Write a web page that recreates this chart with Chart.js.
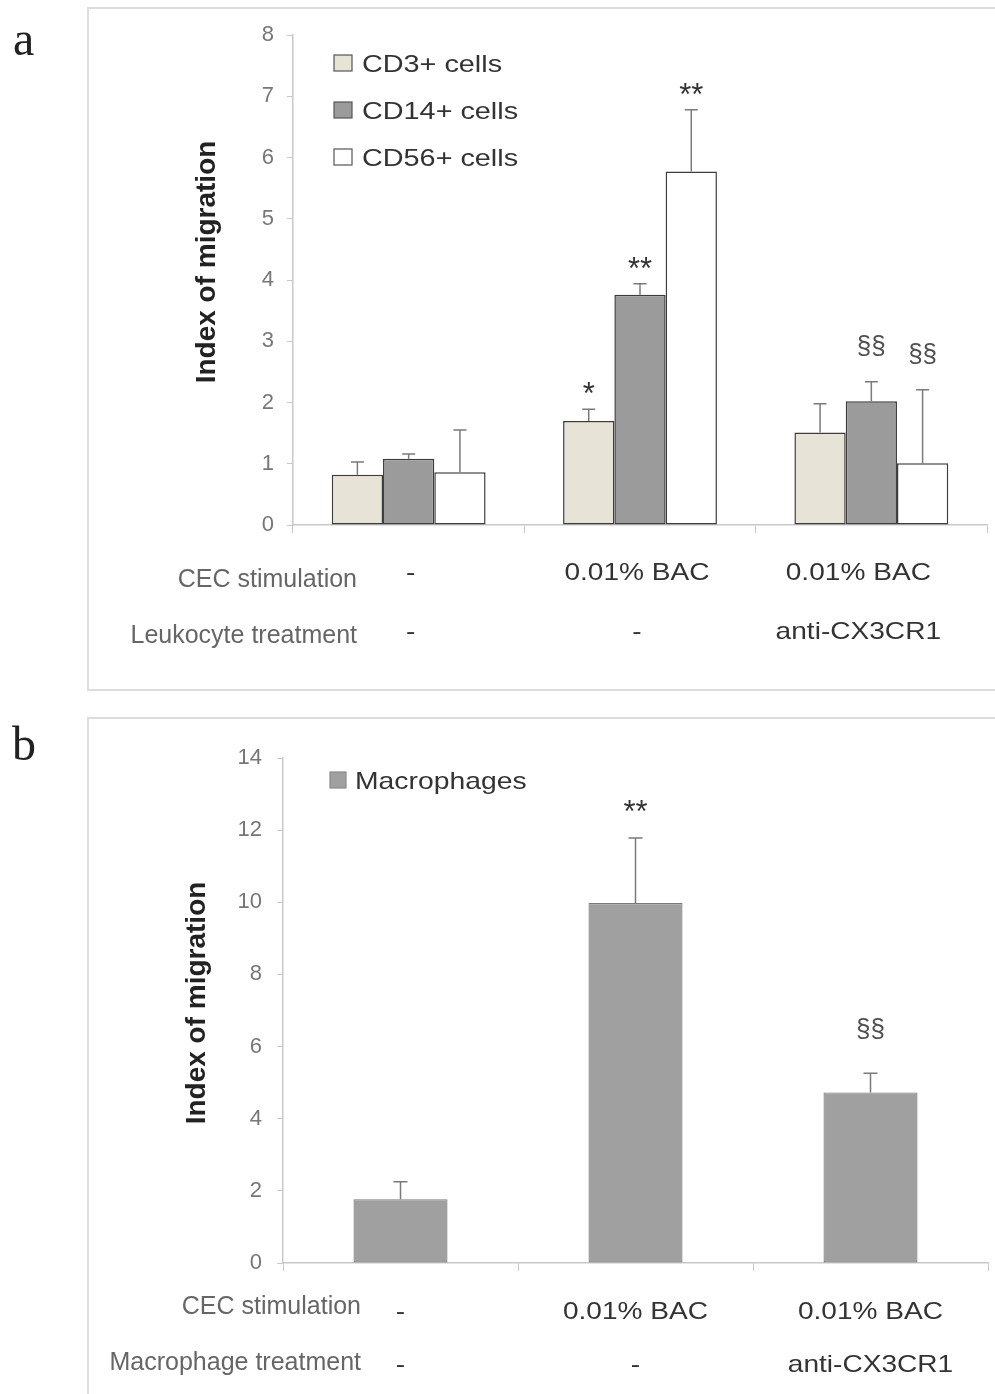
<!DOCTYPE html>
<html>
<head>
<meta charset="utf-8">
<script src="https://cdn.jsdelivr.net/npm/chart.js@4.4.1/dist/chart.umd.min.js"></script>
<style>
    html, body { margin: 0; padding: 0; background: #fff; overflow: hidden; }
    body { width: 995px; height: 1394px; position: relative; }
    .frame { position: absolute; border: 2px solid #dddddd; box-sizing: border-box; }
    canvas { position: absolute; left: 0; }
</style>
</head>
<body>
<div class="frame" style="left:87px; top:7px; width:940px; height:684px;"></div>
<div class="frame" style="left:87px; top:717px; width:940px; height:720px;"></div>
<canvas id="chartA" width="995" height="700" style="top:0;"></canvas>
<canvas id="chartB" width="995" height="694" style="top:700px;"></canvas>

<script>
// panel a - leukocytes
const groupsA = ['control', 'BAC', 'BAC + anti-CX3CR1'];
const cecStimulationA = ['-', '0.01% BAC', '0.01% BAC'];
const leukocyteTreatment = ['-', '-', 'anti-CX3CR1'];
const cd3Mean = [0.82, 1.70, 1.51];
const cd3Sd = [0.21, 0.19, 0.47];
const cd14Mean = [1.08, 3.76, 2.02];
const cd14Sd = [0.08, 0.18, 0.32];
const cd56Mean = [0.86, 5.77, 1.01];
const cd56Sd = [0.69, 1.01, 1.20];
const cd3Marks = ['', '*', ''];
const cd14Marks = ['', '**', '§§'];
const cd56Marks = ['', '**', '§§'];
const yMaxA = 8, yStepA = 1;

// panel b - macrophages
const groupsB = ['control', 'BAC', 'BAC + anti-CX3CR1'];
const cecStimulationB = ['-', '0.01% BAC', '0.01% BAC'];
const macrophageTreatment = ['-', '-', 'anti-CX3CR1'];
const macroMean = [1.77, 9.98, 4.73];
const macroSd = [0.48, 1.80, 0.53];
const macroMarks = ['', '**', '§§'];
const yMaxB = 14, yStepB = 2;

const SANS = '"Liberation Sans", Arial, sans-serif';

// text centred on (x, cy) by cap height, optionally stretched in x or rotated
function drawText(ctx, str, x, cy, o) {
    ctx.save();
    ctx.font = (o.weight || 'normal') + ' ' + o.size + 'px ' + (o.family || SANS);
    ctx.fillStyle = o.color || '#333';
    ctx.textAlign = o.align || 'center';
    ctx.textBaseline = 'alphabetic';
    let shift = o.size * 0.716 / 2;
    if (o.bbox) {
        const m = ctx.measureText(str);
        shift = (m.actualBoundingBoxAscent - m.actualBoundingBoxDescent) / 2;
    }
    ctx.translate(x, cy);
    if (o.rotate) ctx.rotate(o.rotate);
    ctx.scale(o.sx || 1, 1);
    ctx.fillText(str, 0, shift);
    ctx.restore();
}

const errorBars = {
    id: 'errorBars',
    afterDatasetsDraw(chart, args, opts) {
        const ctx = chart.ctx;
        const y = chart.scales.y;
        chart.data.datasets.forEach((ds, i) => {
            chart.getDatasetMeta(i).data.forEach((bar, j) => {
                const top = y.getPixelForValue(ds.data[j] + ds.sd[j]);
                ctx.save();
                ctx.strokeStyle = opts.color;
                ctx.lineWidth = 1.5;
                ctx.beginPath();
                ctx.moveTo(bar.x, bar.y);
                ctx.lineTo(bar.x, top);
                ctx.moveTo(bar.x - opts.cap, top);
                ctx.lineTo(bar.x + opts.cap, top);
                ctx.stroke();
                ctx.restore();
                const mark = ds.marks[j];
                if (mark) {
                    const sect = mark.includes('§');
                    drawText(ctx, mark, bar.x, top - opts.gap[mark], {
                        size: sect ? 26 : 31, color: sect ? '#505050' : '#333', bbox: true
                    });
                }
            });
        });
    }
};

const decor = {
    id: 'decor',
    afterDraw(chart, args, o) {
        const ctx = chart.ctx;
        const x = chart.scales.x;
        // panel letter
        ctx.save();
        ctx.font = '48px "Liberation Serif", "Times New Roman", serif';
        ctx.fillStyle = '#222';
        ctx.fillText(o.tag, o.tagX, o.tagY);
        ctx.restore();
        // y title
        drawText(ctx, 'Index of migration', o.titleX, o.titleY,
            { size: 28, weight: 'bold', color: '#222', rotate: -Math.PI / 2 });
        // legend
        chart.data.datasets.forEach((ds, i) => {
            const cy = o.legend.y + i * o.legend.gap;
            ctx.save();
            ctx.fillStyle = ds.backgroundColor;
            ctx.strokeStyle = o.legend.stroke;
            ctx.lineWidth = 1.2;
            ctx.fillRect(o.legend.x, cy - o.legend.h / 2, o.legend.w, o.legend.h);
            ctx.strokeRect(o.legend.x, cy - o.legend.h / 2, o.legend.w, o.legend.h);
            ctx.restore();
            drawText(ctx, ds.label, o.legend.textX, cy, { size: 24, sx: o.legend.sx, align: 'left', color: '#333' });
        });
        // condition rows under the axis
        o.rows.forEach(r => {
            drawText(ctx, r.label, o.rowRight, r.y, { size: 25, align: 'right', color: '#666' });
            r.values.forEach((v, j) => {
                drawText(ctx, v, x.getPixelForValue(j) + (o.valueShift[j] || 0), r.valueY,
                    { size: 24, sx: 1.17, color: '#333' });
            });
        });
    }
};

function makeOptions(cfg) {
    return {
        responsive: false,
        animation: false,
        devicePixelRatio: 1,
        layout: { padding: { left: 0, top: cfg.top, right: cfg.right, bottom: 0 } },
        plugins: {
            legend: { display: false },
            tooltip: { enabled: false },
            errorBars: cfg.errorBars,
            decor: cfg.decor
        },
        scales: {
            x: {
                grid: { drawOnChartArea: false, tickLength: 8, color: '#c8c8c8', offset: true },
                border: { color: '#c8c8c8', width: 1.5 },
                ticks: { display: false },
                afterFit: s => { s.height = cfg.xHeight; }
            },
            y: {
                min: 0,
                max: cfg.yMax,
                grid: { drawOnChartArea: false, tickLength: 6, color: '#c8c8c8' },
                border: { color: '#c8c8c8', width: 1.5 },
                ticks: {
                    stepSize: cfg.yStep,
                    padding: cfg.tickPad,
                    color: '#777',
                    font: { family: SANS, size: 22 }
                },
                afterFit: s => { s.width = cfg.yWidth; }
            }
        }
    };
}

new Chart(document.getElementById('chartA'), {
    type: 'bar',
    data: {
        labels: groupsA,
        datasets: [
            { label: 'CD3+ cells', data: cd3Mean, sd: cd3Sd, marks: cd3Marks,
              backgroundColor: '#e7e3d6', borderColor: '#3c3c3c', borderWidth: 1.5, borderSkipped: false,
              categoryPercentage: 0.665, barPercentage: 1 },
            { label: 'CD14+ cells', data: cd14Mean, sd: cd14Sd, marks: cd14Marks,
              backgroundColor: '#9b9b9b', borderColor: '#3c3c3c', borderWidth: 1.5, borderSkipped: false,
              categoryPercentage: 0.665, barPercentage: 1 },
            { label: 'CD56+ cells', data: cd56Mean, sd: cd56Sd, marks: cd56Marks,
              backgroundColor: '#ffffff', borderColor: '#3c3c3c', borderWidth: 1.5, borderSkipped: false,
              categoryPercentage: 0.665, barPercentage: 1 }
        ]
    },
    options: makeOptions({
        top: 35, right: 8, xHeight: 175, yWidth: 293, yMax: yMaxA, yStep: yStepA, tickPad: 13,
        errorBars: { color: '#7a7a7a', cap: 6.5, gap: { '*': 21, '**': 21, '§§': 36 } },
        decor: {
            tag: 'a', tagX: 13, tagY: 55,
            titleX: 205, titleY: 262,
            legend: { x: 334, y: 63, gap: 47, w: 18, h: 16, textX: 362, sx: 1.2, stroke: '#555' },
            rowRight: 357,
            valueShift: [2, -3, -13],
            rows: [
                { label: 'CEC stimulation', values: cecStimulationA, y: 578, valueY: 571 },
                { label: 'Leukocyte treatment', values: leukocyteTreatment, y: 634, valueY: 630 }
            ]
        }
    }),
    plugins: [errorBars, decor]
});

new Chart(document.getElementById('chartB'), {
    type: 'bar',
    data: {
        labels: groupsB,
        datasets: [
            { label: 'Macrophages', data: macroMean, sd: macroSd, marks: macroMarks,
              backgroundColor: '#a0a0a0', borderColor: '#7a7a7a', borderWidth: 1.2, borderSkipped: false,
              categoryPercentage: 0.4, barPercentage: 1 }
        ]
    },
    options: makeOptions({
        top: 58, right: 7, xHeight: 131, yWidth: 283, yMax: yMaxB, yStep: yStepB, tickPad: 15,
        errorBars: { color: '#7a7a7a', cap: 7, gap: { '**': 32, '§§': 45 } },
        decor: {
            tag: 'b', tagX: 12, tagY: 60,
            titleX: 195, titleY: 303,
            legend: { x: 330, y: 80, gap: 0, w: 16, h: 16, textX: 355, sx: 1.18, stroke: '#8a8a8a' },
            rowRight: 361,
            valueShift: [0, 0, 0],
            rows: [
                { label: 'CEC stimulation', values: cecStimulationB, y: 605, valueY: 610 },
                { label: 'Macrophage treatment', values: macrophageTreatment, y: 661, valueY: 663 }
            ]
        }
    }),
    plugins: [errorBars, decor]
});
</script>
</body>
</html>
